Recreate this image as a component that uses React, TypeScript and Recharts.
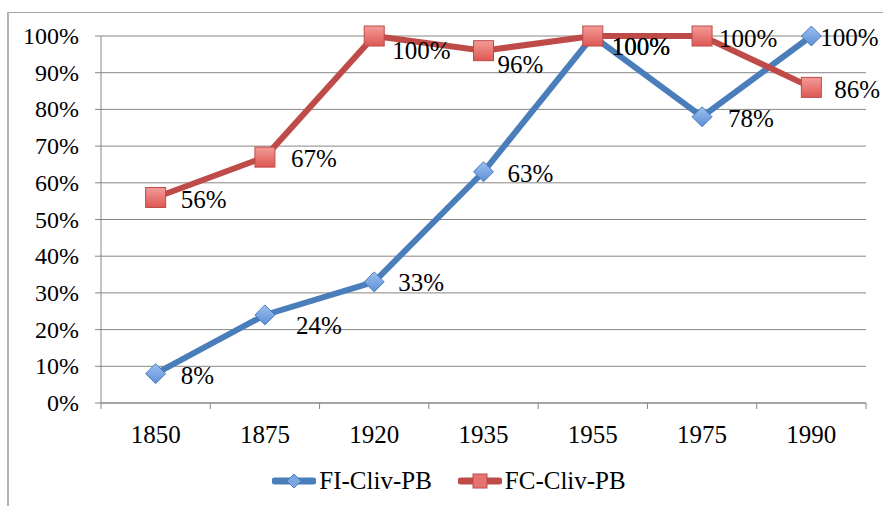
import React from 'react';
import { LineChart, Line, XAxis, YAxis, CartesianGrid, Legend, LabelList } from 'recharts';

// chart values
const years = ['1850', '1875', '1920', '1935', '1955', '1975', '1990'];
const fiClivPb = [8, 24, 33, 63, 100, 78, 100];
const fcClivPb = [56, 67, 100, 96, 100, 100, 86];
const yTicks = [0, 10, 20, 30, 40, 50, 60, 70, 80, 90, 100];

const data = years.map((y, i) => ({ year: y, fi: fiClivPb[i], fc: fcClivPb[i] }));

const W = 883;
const H = 506;
const MARGIN = { top: 36, right: 17, left: 0, bottom: 10 };
const Y_AXIS_W = 101;
const STEP = (W - MARGIN.left - MARGIN.right - Y_AXIS_W) / years.length;

const FONT = 'Liberation Serif';
const AXIS_GREY = '#868686';
const BLUE = '#4A7EBB';
const RED = '#BE4B48';

// hand-placed label nudges from the original (dx, dy per point)
const fiNudge = [[25, 2], [31, 11], [24, 1], [24, 2], [19, 10], [26, 2], [9, 1]];
const fcNudge = [[25, 2], [26, 1], [18, 14], [14, 14], [19, 10], [17, 2], [23, 2]];

const Diamond = ({ cx, cy, size = 10 }: { cx?: number; cy?: number; size?: number }) => {
  if (cx == null || cy == null) return null;
  return (
    <path
      d={`M${cx},${cy - size} L${cx + size},${cy} L${cx},${cy + size} L${cx - size},${cy} Z`}
      fill="url(#blueFill)"
      stroke="#4A7EBB"
      strokeWidth={1}
    />
  );
};

const Square = ({ cx, cy, size = 10 }: { cx?: number; cy?: number; size?: number }) => {
  if (cx == null || cy == null) return null;
  return (
    <rect x={cx - size} y={cy - size} width={size * 2} height={size * 2} fill="url(#redFill)" stroke="#BE4B48" strokeWidth={1} />
  );
};

const makeLabel = (nudge: number[][]) => (props: any) => {
  const { x = 0, y = 0, value, index = 0 } = props;
  const [dx, dy] = nudge[index] || [24, 2];
  return (
    <text x={x + dx} y={y + dy} dominantBaseline="central" fill="#000" fontSize={25} fontFamily={FONT}>
      {value}%
    </text>
  );
};
const FiLabel = makeLabel(fiNudge);
const FcLabel = makeLabel(fcNudge);

// ticks sit on the category boundaries, like the original
const XTick = (props: any) => {
  const { x, y, payload, index } = props;
  const last = index === years.length - 1;
  return (
    <g>
      <line x1={x - STEP / 2} x2={x - STEP / 2} y1={y - 8} y2={y - 2} stroke={AXIS_GREY} />
      {last && <line x1={x + STEP / 2} x2={x + STEP / 2} y1={y - 8} y2={y - 2} stroke={AXIS_GREY} />}
      <text x={x} y={y + 23} textAnchor="middle" dominantBaseline="central" fill="#000" fontSize={25} fontFamily={FONT}>
        {payload.value}
      </text>
    </g>
  );
};

const YTick = (props: any) => {
  const { x, y, payload } = props;
  return (
    <text x={x - 14} y={y} textAnchor="end" dominantBaseline="central" fill="#000" fontSize={24} fontFamily={FONT}>
      {payload.value}%
    </text>
  );
};

const legendItems = [
  { name: 'FI-Cliv-PB', color: BLUE, marker: 'diamond' },
  { name: 'FC-Cliv-PB', color: RED, marker: 'square' },
];

const LegendContent = () => (
  <div style={{ display: 'flex', justifyContent: 'center', alignItems: 'center', gap: 26, paddingTop: 24, paddingLeft: 15, fontFamily: FONT, fontSize: 25, color: '#000' }}>
    {legendItems.map((it) => (
      <div key={it.name} style={{ display: 'flex', alignItems: 'center' }}>
        <svg width={44} height={20}>
          <line x1={3} x2={41} y1={10} y2={10} stroke={it.color} strokeWidth={7} strokeLinecap="round" />
          {it.marker === 'diamond' ? (
            <path d="M22,3 L29,10 L22,17 L15,10 Z" fill="#7DA7E0" stroke={BLUE} />
          ) : (
            <rect x={15} y={3} width={14} height={14} fill="#E57470" stroke={RED} />
          )}
        </svg>
        <span style={{ marginLeft: 3 }}>{it.name}</span>
      </div>
    ))}
  </div>
);

export default function App() {
  return (
    <div style={{ position: 'absolute', left: 0, top: 0, width: W, height: H, background: '#fff', overflow: 'hidden' }}>
      <div style={{ position: 'absolute', left: 7, top: 12, width: W, height: H, borderLeft: '2px solid #B3B3B3', borderTop: '1.5px solid #A6A6A6' }} />
      <LineChart width={W} height={H} data={data} margin={MARGIN}>
        <defs>
          <linearGradient id="blueFill" x1="0" y1="0" x2="0" y2="1">
            <stop offset="0%" stopColor="#9CC0F0" />
            <stop offset="100%" stopColor="#5E8FD6" />
          </linearGradient>
          <linearGradient id="redFill" x1="0" y1="0" x2="0" y2="1">
            <stop offset="0%" stopColor="#F39C98" />
            <stop offset="100%" stopColor="#DE5753" />
          </linearGradient>
        </defs>
        <CartesianGrid vertical={false} stroke={AXIS_GREY} strokeWidth={1} />
        <XAxis
          dataKey="year"
          height={40}
          axisLine={{ stroke: AXIS_GREY }}
          tickLine={false}
          tick={<XTick />}
          interval={0}
          padding={{ left: STEP / 2, right: STEP / 2 }}
        />
        <YAxis
          domain={[0, 100]}
          ticks={yTicks}
          width={Y_AXIS_W}
          axisLine={{ stroke: AXIS_GREY }}
          tickLine={{ stroke: AXIS_GREY }}
          tickSize={6}
          tick={<YTick />}
        />
        <Legend verticalAlign="bottom" content={<LegendContent />} wrapperStyle={{ height: 53, left: 0, width: W }} />
        <Line dataKey="fi" name="FI-Cliv-PB" stroke={BLUE} strokeWidth={6} dot={<Diamond />} activeDot={false} isAnimationActive={false}>
          <LabelList dataKey="fi" content={<FiLabel />} />
        </Line>
        <Line dataKey="fc" name="FC-Cliv-PB" stroke={RED} strokeWidth={6} dot={<Square />} activeDot={false} isAnimationActive={false}>
          <LabelList dataKey="fc" content={<FcLabel />} />
        </Line>
      </LineChart>
    </div>
  );
}
